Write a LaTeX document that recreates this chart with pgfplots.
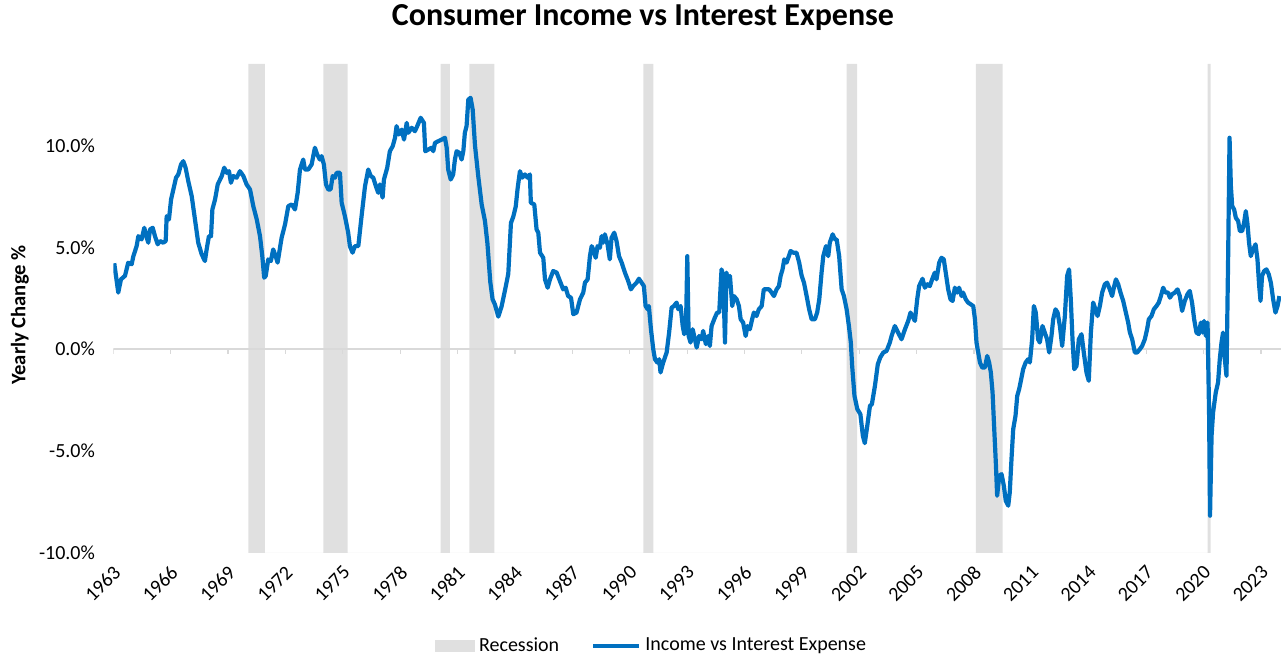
\documentclass[border=0pt]{standalone}
\usepackage{fontspec}
\setmainfont{Carlito}
\usepackage{pgfplots}
\pgfplotsset{compat=1.18}
\definecolor{lineblue}{HTML}{0070C0}
\definecolor{bandgray}{HTML}{E0E0E0}
\definecolor{zerogray}{HTML}{D9D9D9}
\begin{document}
\begin{tikzpicture}
\path[use as bounding box] (-56.65pt,-52pt) rectangle (586.85pt,276.5pt);
\begin{axis}[
  at={(0,0)}, anchor=south west,
  scale only axis, width=583.85pt, height=244.5pt,
  xmin=1963, xmax=2024.05, ymin=-10, ymax=14,
  axis line style={draw=none},
  tick style={draw=none}, major tick length=0pt,
  xtick={1963,1966,...,2023},
  ytick={-10,-5,0,5,10},
  yticklabels={-10.0\%,-5.0\%,0.0\%,5.0\%,10.0\%},
  tick label style={font=\fontsize{10}{12}\selectfont},
  /pgf/number format/assume math mode=true,
  /pgf/number format/1000 sep={},
  yticklabel style={anchor=east, inner sep=0pt, xshift=-9pt},
  xticklabel style={inner sep=0pt, xshift=2pt, yshift=-8pt, rotate=45, anchor=east},
  legend style={draw=none, fill=none, legend columns=2,
    font=\fontsize{10}{12}\selectfont,
    at={(axis description cs:0.4618,-0.19)}, anchor=center,
    /tikz/every even column/.append style={column sep=14pt}},
  legend cell align=left,
]
% recession bands
\addplot[fill=bandgray, draw=none,
  legend image code/.code={\fill[fill=bandgray] (0pt,-3pt) rectangle (20pt,3pt);}]
 coordinates {
 (1970.06,-10)(1970.06,14)(1970.93,14)(1970.93,-10)
 (1973.98,-10)(1973.98,14)(1975.25,14)(1975.25,-10)
 (1980.11,-10)(1980.11,14)(1980.60,14)(1980.60,-10)
 (1981.61,-10)(1981.61,14)(1982.92,14)(1982.92,-10)
 (1990.71,-10)(1990.71,14)(1991.23,14)(1991.23,-10)
 (2001.34,-10)(2001.34,14)(2001.89,14)(2001.89,-10)
 (2008.10,-10)(2008.10,14)(2009.49,14)(2009.49,-10)
 (2020.22,-10)(2020.22,14)(2020.37,14)(2020.37,-10)
 };
\addlegendentry{Recession}
% zero line
\addplot[zerogray, line width=0.8pt, forget plot] coordinates {(1963,0) (2024.05,0)};
\pgfplotsinvokeforeach{1963,1966,...,2023}{\draw[zerogray, line width=0.6pt] (axis cs:#1,0) -- ++(0pt,-2.5pt);}
% series
\addplot[lineblue, line width=2.1pt, line join=round, mark=none,
  legend image code/.code={\draw[lineblue, line width=2.1pt] (0pt,0pt) -- (23pt,0pt);}]
 coordinates {
(1963.05,4.22)(1963.26,2.78)(1963.40,3.43)(1963.61,3.60)(1963.78,4.25)(1963.96,4.17)
(1964.05,4.57)(1964.22,5.06)(1964.31,5.55)(1964.48,5.39)(1964.62,5.96)(1964.75,5.47)
(1964.83,5.23)(1964.92,5.88)(1965.06,5.96)(1965.18,5.55)(1965.32,5.15)(1965.44,5.31)
(1965.61,5.23)(1965.74,5.31)(1965.79,6.53)(1965.91,6.37)(1966.02,7.35)(1966.14,7.84)
(1966.28,8.42)(1966.40,8.58)(1966.54,9.07)(1966.66,9.23)(1966.78,8.91)(1966.92,8.25)
(1967.10,7.51)(1967.27,6.37)(1967.44,5.23)(1967.62,4.66)(1967.79,4.33)(1967.88,4.90)
(1968.00,5.55)(1968.11,5.55)(1968.18,6.86)(1968.32,7.35)(1968.46,8.09)(1968.67,8.50)
(1968.80,8.91)(1968.93,8.66)(1969.05,8.74)(1969.15,8.17)(1969.27,8.50)(1969.45,8.42)
(1969.62,8.74)(1969.80,8.50)(1969.97,8.09)(1970.15,7.84)(1970.32,7.02)(1970.50,6.37)
(1970.67,5.55)(1970.79,4.57)(1970.89,3.51)(1970.97,3.60)(1971.10,4.41)(1971.24,4.33)
(1971.36,4.90)(1971.49,4.57)(1971.59,4.25)(1971.80,5.47)(1971.98,6.13)(1972.15,7.02)
(1972.33,7.11)(1972.50,6.86)(1972.64,7.68)(1972.76,8.82)(1972.93,9.31)(1973.02,8.82)
(1973.19,8.82)(1973.37,9.07)(1973.54,9.89)(1973.66,9.56)(1973.80,9.31)(1973.89,9.48)
(1974.01,9.07)(1974.12,8.09)(1974.24,7.84)(1974.36,7.84)(1974.47,8.50)(1974.59,8.42)
(1974.68,8.66)(1974.85,8.66)(1974.94,7.19)(1975.11,6.53)(1975.28,5.72)(1975.37,5.06)
(1975.51,4.74)(1975.63,5.06)(1975.81,5.06)(1975.98,6.53)(1976.16,8.00)(1976.33,8.82)
(1976.46,8.50)(1976.59,8.42)(1976.73,8.00)(1976.85,7.68)(1976.94,8.09)(1977.08,7.44)
(1977.15,8.33)(1977.32,8.90)(1977.46,9.72)(1977.61,9.97)(1977.73,10.38)(1977.81,10.95)
(1977.93,10.54)(1978.08,10.78)(1978.20,10.29)(1978.34,11.11)(1978.42,10.62)(1978.60,10.87)
(1978.77,10.70)(1978.89,10.95)(1979.07,11.36)(1979.24,11.11)(1979.31,9.72)(1979.47,9.80)
(1979.64,9.89)(1979.73,9.72)(1979.82,10.13)(1979.99,10.21)(1980.17,10.29)(1980.34,10.38)
(1980.43,9.89)(1980.51,8.82)(1980.64,8.33)(1980.77,8.58)(1980.86,9.31)(1980.95,9.72)
(1981.09,9.64)(1981.21,9.31)(1981.30,9.72)(1981.38,10.62)(1981.47,10.95)(1981.56,12.25)
(1981.68,12.34)(1981.79,11.76)(1981.91,10.00)(1982.08,8.50)(1982.26,7.10)(1982.43,6.30)
(1982.56,5.20)(1982.71,3.30)(1982.83,2.45)(1982.95,2.20)(1983.13,1.60)(1983.30,2.10)
(1983.48,2.90)(1983.65,3.70)(1983.79,6.20)(1983.91,6.50)(1984.04,7.00)(1984.14,7.90)
(1984.26,8.74)(1984.38,8.42)(1984.52,8.58)(1984.66,8.42)(1984.78,8.58)(1984.83,7.19)
(1985.01,7.11)(1985.13,5.88)(1985.22,5.72)(1985.31,4.74)(1985.48,4.49)(1985.57,3.43)
(1985.71,3.02)(1985.83,3.43)(1986.00,3.84)(1986.18,3.76)(1986.35,3.35)(1986.52,2.94)
(1986.65,3.02)(1986.78,2.61)(1986.93,2.53)(1987.05,1.72)(1987.22,1.80)(1987.40,2.45)
(1987.57,2.78)(1987.66,3.27)(1987.80,3.43)(1987.92,4.57)(1988.01,5.06)(1988.09,4.90)
(1988.22,4.49)(1988.32,5.06)(1988.44,4.98)(1988.53,5.55)(1988.61,5.23)(1988.70,5.64)
(1988.84,5.15)(1988.96,4.41)(1989.05,5.47)(1989.19,5.72)(1989.31,5.31)(1989.44,4.57)
(1989.58,4.25)(1989.75,3.76)(1989.92,3.35)(1990.06,2.94)(1990.18,3.10)(1990.36,3.27)
(1990.48,3.46)(1990.62,3.27)(1990.74,3.10)(1990.83,2.12)(1990.94,1.96)(1991.00,2.12)
(1991.11,0.98)(1991.23,0.00)(1991.32,-0.49)(1991.44,-0.65)(1991.54,-0.49)(1991.61,-1.14)
(1991.75,-0.65)(1991.93,-0.16)(1992.06,0.82)(1992.19,2.04)(1992.31,2.12)(1992.45,2.29)
(1992.54,1.96)(1992.66,2.12)(1992.77,1.14)(1992.85,0.74)(1992.94,0.98)(1993.01,4.57)
(1993.08,0.65)(1993.18,0.33)(1993.29,0.98)(1993.41,0.49)(1993.50,0.08)(1993.63,0.65)
(1993.76,0.49)(1993.84,0.90)(1993.98,0.25)(1994.10,0.65)(1994.19,0.16)(1994.28,1.14)
(1994.45,1.55)(1994.57,1.80)(1994.68,1.80)(1994.80,3.92)(1994.89,3.60)(1994.98,0.33)
(1995.06,3.76)(1995.15,3.10)(1995.24,3.60)(1995.36,2.12)(1995.45,2.61)(1995.59,2.45)
(1995.71,2.12)(1995.80,1.47)(1995.93,1.31)(1996.06,0.65)(1996.16,1.14)(1996.28,0.98)
(1996.40,1.47)(1996.49,1.80)(1996.63,1.63)(1996.75,1.96)(1996.90,2.12)(1997.01,2.94)
(1997.16,2.94)(1997.29,2.94)(1997.42,2.78)(1997.54,2.61)(1997.68,2.94)(1997.80,3.10)
(1997.89,3.60)(1997.99,3.92)(1998.08,4.41)(1998.20,4.25)(1998.29,4.49)(1998.41,4.82)
(1998.55,4.74)(1998.72,4.74)(1998.86,4.25)(1998.99,3.60)(1999.11,3.27)(1999.25,2.61)
(1999.38,1.96)(1999.51,1.47)(1999.68,1.47)(1999.80,1.80)(1999.91,2.45)(2000.03,3.76)
(2000.12,4.57)(2000.26,5.06)(2000.38,4.57)(2000.46,5.23)(2000.61,5.64)(2000.73,5.39)
(2000.82,5.39)(2000.95,4.57)(2001.08,2.94)(2001.20,2.61)(2001.34,1.96)(2001.46,1.14)
(2001.56,0.33)(2001.63,-0.82)(2001.75,-2.29)(2001.90,-2.94)(2002.06,-3.19)(2002.19,-4.25)
(2002.29,-4.61)(2002.42,-3.76)(2002.56,-2.78)(2002.66,-2.70)(2002.82,-1.80)(2002.97,-0.74)
(2003.10,-0.40)(2003.26,-0.16)(2003.43,-0.08)(2003.60,0.33)(2003.69,0.65)(2003.86,1.14)
(2004.03,0.82)(2004.21,0.49)(2004.39,0.98)(2004.56,1.39)(2004.68,1.80)(2004.82,1.55)
(2004.91,1.39)(2005.03,2.45)(2005.13,3.10)(2005.31,3.46)(2005.43,3.02)(2005.57,3.19)
(2005.69,3.10)(2005.81,3.43)(2005.95,3.76)(2006.04,3.43)(2006.18,4.25)(2006.30,4.49)
(2006.42,4.41)(2006.51,3.84)(2006.65,2.94)(2006.77,2.45)(2006.88,2.37)(2007.00,3.02)
(2007.12,2.78)(2007.22,3.02)(2007.35,2.61)(2007.43,2.78)(2007.57,2.45)(2007.69,2.29)
(2007.82,2.21)(2007.96,2.12)(2008.05,1.47)(2008.13,0.33)(2008.22,-0.16)(2008.31,-0.65)
(2008.43,-0.90)(2008.57,-0.90)(2008.69,-0.33)(2008.79,-0.65)(2008.88,-1.14)(2008.97,-2.12)
(2009.05,-3.76)(2009.14,-5.55)(2009.21,-7.19)(2009.32,-6.21)(2009.44,-6.13)(2009.56,-6.70)
(2009.66,-7.44)(2009.79,-7.68)(2009.87,-7.02)(2009.96,-5.39)(2010.05,-3.92)(2010.17,-3.27)
(2010.26,-2.29)(2010.36,-1.96)(2010.45,-1.55)(2010.57,-0.98)(2010.70,-0.65)(2010.83,-0.49)
(2010.92,-0.65)(2011.04,0.49)(2011.13,2.12)(2011.23,1.80)(2011.35,0.49)(2011.44,0.33)
(2011.58,1.14)(2011.70,0.82)(2011.82,0.49)(2011.93,-0.16)(2012.05,0.65)(2012.14,1.47)
(2012.26,1.96)(2012.37,1.80)(2012.49,1.14)(2012.61,0.16)(2012.75,1.63)(2012.87,3.60)
(2012.97,3.92)(2013.06,2.45)(2013.15,0.49)(2013.24,-0.98)(2013.36,-0.82)(2013.48,0.49)
(2013.62,0.74)(2013.74,-0.16)(2013.88,-1.14)(2014.00,-1.55)(2014.11,0.82)(2014.23,2.29)
(2014.35,1.96)(2014.46,1.63)(2014.58,2.12)(2014.70,2.78)(2014.84,3.19)(2014.96,3.27)
(2015.10,2.94)(2015.22,2.61)(2015.33,3.10)(2015.42,3.43)(2015.54,3.19)(2015.66,2.78)
(2015.80,2.37)(2015.92,1.88)(2016.06,1.31)(2016.15,0.82)(2016.27,0.49)(2016.41,-0.16)
(2016.53,-0.16)(2016.67,0.00)(2016.79,0.16)(2016.93,0.49)(2017.05,0.98)(2017.14,1.47)
(2017.28,1.63)(2017.40,1.96)(2017.54,2.12)(2017.66,2.29)(2017.77,2.61)(2017.89,3.02)
(2018.01,2.78)(2018.15,2.78)(2018.24,2.53)(2018.36,2.70)(2018.50,2.78)(2018.64,2.94)
(2018.76,2.61)(2018.88,1.88)(2019.02,2.37)(2019.16,2.70)(2019.28,2.86)(2019.40,2.29)
(2019.51,1.47)(2019.63,0.82)(2019.75,0.74)(2019.86,1.31)(2019.95,0.82)(2020.03,1.39)
(2020.12,0.65)(2020.21,1.31)(2020.29,-3.10)(2020.34,-8.17)(2020.42,-4.25)(2020.50,-3.10)
(2020.64,-2.12)(2020.76,-1.63)(2020.85,-0.49)(2020.94,0.33)(2021.02,0.82)(2021.08,-0.16)
(2021.20,-1.31)(2021.29,4.74)(2021.36,10.38)(2021.43,8.00)(2021.50,7.02)(2021.60,6.86)
(2021.69,6.45)(2021.81,6.29)(2021.90,5.80)(2022.02,5.80)(2022.12,6.21)(2022.21,6.78)
(2022.30,6.13)(2022.38,5.23)(2022.47,4.57)(2022.59,4.90)(2022.72,5.15)(2022.82,4.41)
(2022.91,3.10)(2022.98,2.37)(2023.06,3.60)(2023.17,3.84)(2023.29,3.92)(2023.41,3.68)
(2023.52,3.27)(2023.64,2.45)(2023.76,1.80)(2023.87,2.12)(2023.97,2.61)
 };
\addlegendentry{Income vs Interest Expense}
\end{axis}
\node[font=\fontsize{16}{19}\selectfont\bfseries] at (264.85pt,267.5pt) {Consumer Income vs Interest Expense};
\node[font=\fontsize{10.3}{12.5}\selectfont\bfseries, rotate=90] at (-46.65pt,119pt) {Yearly Change \%};
\end{tikzpicture}
\end{document}
